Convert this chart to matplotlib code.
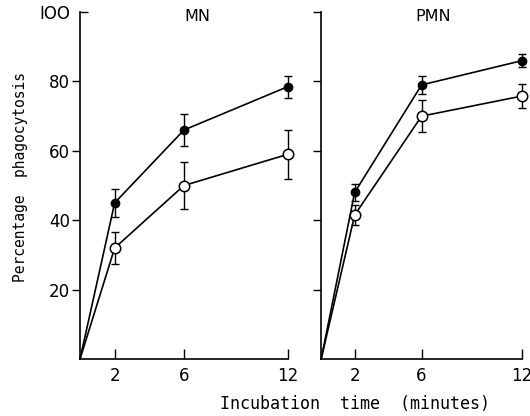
import matplotlib
matplotlib.use("Agg")
import matplotlib.pyplot as plt
import matplotlib.lines as mlines

plt.rcParams['font.family'] = ['DejaVu Sans']

# incubation time (minutes)
times = [0, 2, 6, 12]

# MN
mn_filled = [0, 45, 66, 78.5]
mn_filled_err = [0, 4, 4.5, 3.2]
mn_open = [0, 32, 50, 59]
mn_open_err = [0, 4.5, 6.7, 7]

# PMN
pmn_filled = [0, 48, 79, 86]
pmn_filled_err = [0, 2.5, 2.5, 1.8]
pmn_open = [0, 41.5, 70, 75.8]
pmn_open_err = [0, 2.8, 4.6, 3.4]

xticks = [2, 6, 12]
yticks = [20, 40, 60, 80, 100]
ytick_labels = ["20", "40", "60", "80", "IOO"]

fig = plt.figure(figsize=(5.30, 4.16), dpi=100)
ax1 = fig.add_axes([0.151, 0.137, 0.392, 0.834])
ax2 = fig.add_axes([0.606, 0.137, 0.379, 0.834])


def draw(ax, filled, filled_err, opn, opn_err):
    ax.errorbar(times[1:], opn[1:], yerr=opn_err[1:], fmt="none", ecolor="black",
                elinewidth=1.0, capsize=3, capthick=1.0, zorder=2, clip_on=False)
    ax.errorbar(times[1:], filled[1:], yerr=filled_err[1:], fmt="none", ecolor="black",
                elinewidth=1.0, capsize=3, capthick=1.0, zorder=2, clip_on=False)
    ax.plot(times, filled, color="black", lw=1.2, zorder=3, clip_on=False)
    ax.plot(times, opn, color="black", lw=1.2, zorder=3, clip_on=False)
    ax.plot(times[1:], filled[1:], "o", color="black", ms=6, zorder=4, clip_on=False)
    ax.plot(times[1:], opn[1:], "o", mfc="white", mec="black", mew=1.1, ms=7.5,
            zorder=5, clip_on=False)
    ax.set_xlim(0, 12)
    ax.set_ylim(0, 100)
    ax.spines["top"].set_visible(False)
    ax.spines["right"].set_visible(False)
    ax.spines["left"].set_linewidth(1.2)
    ax.spines["bottom"].set_linewidth(1.2)
    ax.set_xticks(xticks)
    ax.set_xticklabels([str(t) for t in xticks])
    ax.tick_params(axis="x", direction="in", length=7, width=1.0, labelsize=12, pad=6)
    ax.set_yticks(yticks)
    ax.tick_params(axis="y", direction="out", length=6, width=1.0, labelsize=12, pad=1)
    ax.patch.set_visible(False)


draw(ax1, mn_filled, mn_filled_err, mn_open, mn_open_err)
draw(ax2, pmn_filled, pmn_filled_err, pmn_open, pmn_open_err)

ax1.set_yticklabels(ytick_labels)
ax2.set_yticklabels([])
# top tick of the left panel points right
ax1.yaxis.get_major_ticks()[-1].tick1line.set_marker(mlines.TICKRIGHT)

fig.text(0.372, 0.9615, "MN", ha="center", va="center", fontsize=11.5)
fig.text(0.817, 0.9615, "PMN", ha="center", va="center", fontsize=11.5)

fig.text(0.038, 0.575, "Percentage  phagocytosis", rotation=90, ha="center", va="center",
         fontsize=10.5, family="DejaVu Sans Mono")
fig.text(0.67, 0.029, "Incubation  time  (minutes)", ha="center", va="center",
         fontsize=12, family="DejaVu Sans Mono")

fig.savefig("out.png", dpi=100)
